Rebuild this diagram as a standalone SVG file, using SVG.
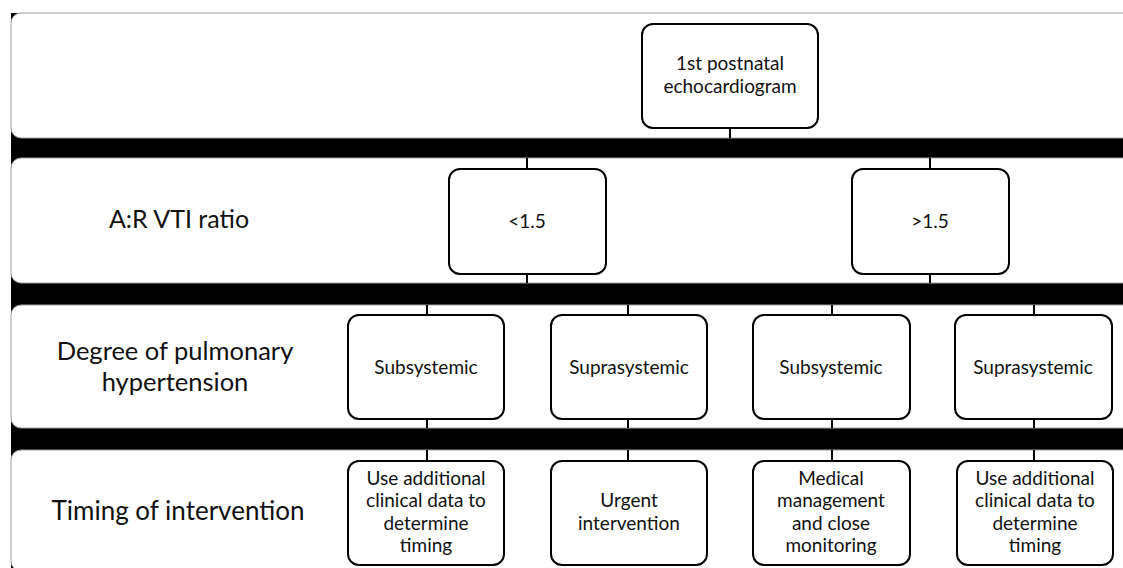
<svg xmlns="http://www.w3.org/2000/svg" width="1123" height="568" viewBox="0 0 1123 568">
<style>
  .row { fill: #ffffff; stroke: #a0a0a0; stroke-width: 1; }
  .box { fill: #ffffff; stroke: #000000; stroke-width: 2; }
  .t { font-family: Lato, "Liberation Sans", sans-serif; font-size: 19px; fill: #111111; text-anchor: middle; }
  .lbl { font-family: Lato, "Liberation Sans", sans-serif; font-size: 26px; fill: #111111; text-anchor: middle; }
  .c { stroke: #000000; stroke-width: 2; fill: none; }
</style>
<rect x="0" y="0" width="1123" height="568" fill="#ffffff"/>
<g id="bands">
  <rect x="11" y="13" width="1112" height="555" fill="#000000"/>
  <rect class="row" x="11" y="13" width="1130" height="125" rx="10"/>
  <rect class="row" x="11" y="158" width="1130" height="125" rx="10"/>
  <rect class="row" x="11" y="305" width="1130" height="123" rx="10"/>
  <rect class="row" x="11" y="450" width="1130" height="121" rx="10"/>
</g>
<g id="row-labels">
  <text class="lbl" x="179" y="228" style="font-size:25px">A:R VTI ratio</text>
  <text class="lbl" x="175" y="360" style="font-size:25.5px">Degree of pulmonary</text>
  <text class="lbl" x="175" y="391" style="font-size:25.5px">hypertension</text>
  <text class="lbl" x="178" y="520">Timing of intervention</text>
</g>
<g id="connectors">
  <line class="c" x1="730" y1="128" x2="730" y2="138"/>
  <line class="c" x1="527" y1="158" x2="527" y2="169"/>
  <line class="c" x1="527" y1="274" x2="527" y2="283"/>
  <line class="c" x1="930" y1="158" x2="930" y2="169"/>
  <line class="c" x1="930" y1="274" x2="930" y2="283"/>
  <line class="c" x1="427" y1="305" x2="427" y2="315"/>
  <line class="c" x1="427" y1="419" x2="427" y2="428"/>
  <line class="c" x1="427" y1="450" x2="427" y2="461"/>
  <line class="c" x1="628" y1="305" x2="628" y2="315"/>
  <line class="c" x1="628" y1="419" x2="628" y2="428"/>
  <line class="c" x1="628" y1="450" x2="628" y2="461"/>
  <line class="c" x1="832" y1="305" x2="832" y2="315"/>
  <line class="c" x1="832" y1="419" x2="832" y2="428"/>
  <line class="c" x1="832" y1="450" x2="832" y2="461"/>
  <line class="c" x1="1034" y1="305" x2="1034" y2="315"/>
  <line class="c" x1="1034" y1="419" x2="1034" y2="428"/>
  <line class="c" x1="1034" y1="450" x2="1034" y2="461"/>
</g>
<g id="node-echo">
  <rect class="box" x="642" y="24" width="176" height="104" rx="11"/>
  <text class="t" x="730" y="70">1st postnatal</text>
  <text class="t" x="730" y="93">echocardiogram</text>
</g>
<g id="node-lt15">
  <rect class="box" x="449" y="169" width="157" height="105" rx="11"/>
  <text class="t" x="527" y="228">&lt;1.5</text>
</g>
<g id="node-gt15">
  <rect class="box" x="852" y="169" width="157" height="105" rx="11"/>
  <text class="t" x="930" y="228">&gt;1.5</text>
</g>
<g id="node-sub1">
  <rect class="box" x="348" y="315" width="156" height="104" rx="11"/>
  <text class="t" x="426" y="374">Subsystemic</text>
</g>
<g id="node-supra1">
  <rect class="box" x="551" y="315" width="156" height="104" rx="11"/>
  <text class="t" x="629" y="374">Suprasystemic</text>
</g>
<g id="node-sub2">
  <rect class="box" x="753" y="315" width="157" height="104" rx="11"/>
  <text class="t" x="831" y="374">Subsystemic</text>
</g>
<g id="node-supra2">
  <rect class="box" x="955" y="315" width="157" height="104" rx="11"/>
  <text class="t" x="1033" y="374">Suprasystemic</text>
</g>
<g id="node-timing1">
  <rect class="box" x="348" y="461" width="156" height="104" rx="11"/>
  <text class="t" x="426" y="485">Use additional</text>
  <text class="t" x="426" y="507">clinical data to</text>
  <text class="t" x="426" y="530">determine</text>
  <text class="t" x="426" y="552">timing</text>
</g>
<g id="node-urgent">
  <rect class="box" x="551" y="461" width="156" height="104" rx="11"/>
  <text class="t" x="629" y="507">Urgent</text>
  <text class="t" x="629" y="530">intervention</text>
</g>
<g id="node-medical">
  <rect class="box" x="753" y="461" width="157" height="104" rx="11"/>
  <text class="t" x="831" y="485">Medical</text>
  <text class="t" x="831" y="507">management</text>
  <text class="t" x="831" y="530">and close</text>
  <text class="t" x="831" y="552">monitoring</text>
</g>
<g id="node-timing2">
  <rect class="box" x="957" y="461" width="156" height="104" rx="11"/>
  <text class="t" x="1035" y="485">Use additional</text>
  <text class="t" x="1035" y="507">clinical data to</text>
  <text class="t" x="1035" y="530">determine</text>
  <text class="t" x="1035" y="552">timing</text>
</g>
</svg>
